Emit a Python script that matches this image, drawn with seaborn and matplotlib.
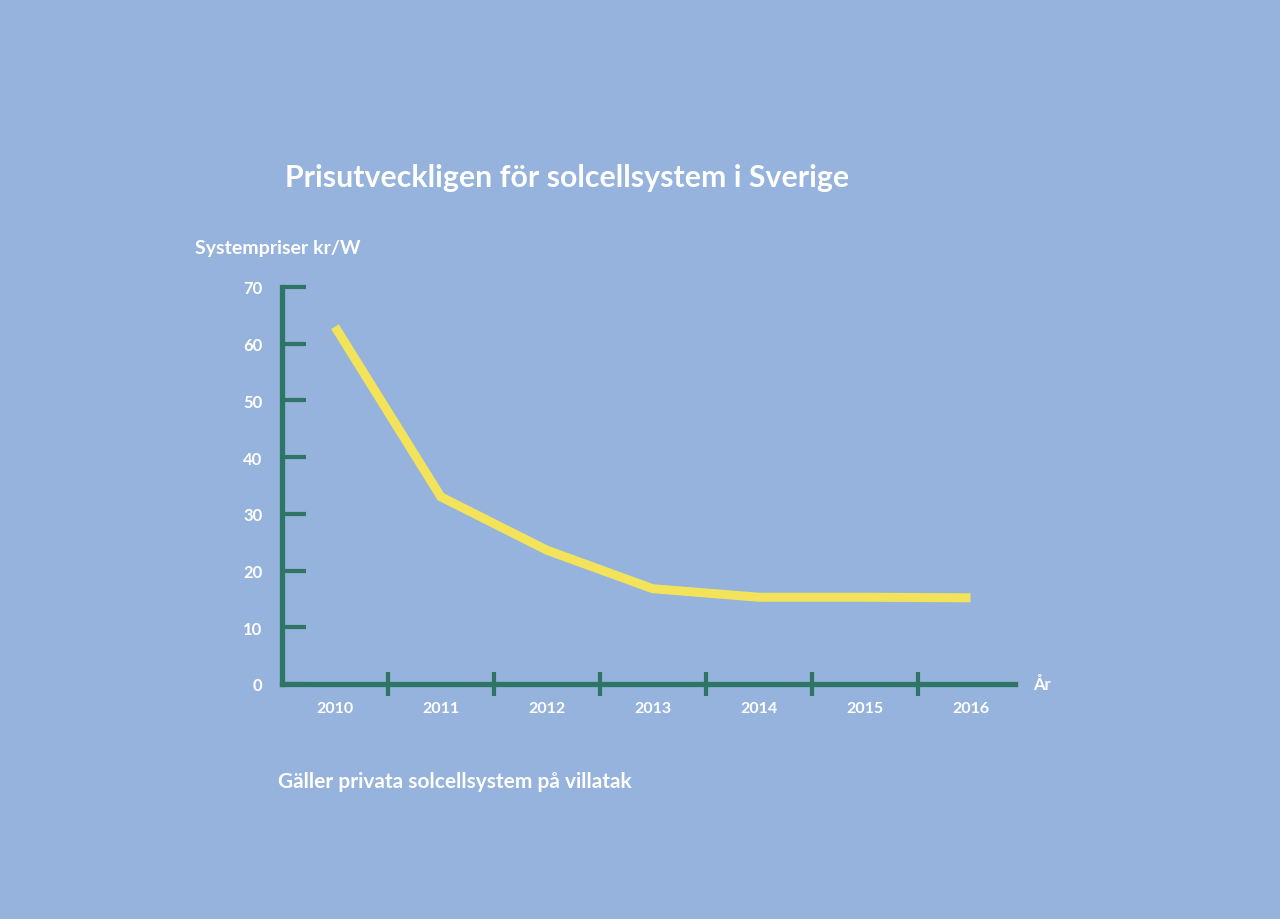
import matplotlib
matplotlib.use("Agg")
import matplotlib.pyplot as plt
import seaborn as sns
import pandas as pd

# Data
years = [2010, 2011, 2012, 2013, 2014, 2015, 2016]
prices = [63, 33, 23.6, 16.8, 15.3, 15.3, 15.2]
y_ticks = [0, 10, 20, 30, 40, 50, 60, 70]
title = "Prisutveckligen för solcellsystem i Sverige"
ylabel = "Systempriser kr/W"
xlabel = "År"
footnote = "Gäller privata solcellsystem på villatak"

BG = "#95b3dc"
AXIS = "#2e7566"
LINE = "#f3e35a"
WHITE = "#ffffff"

sns.set_style("white", {"axes.facecolor": BG, "figure.facecolor": BG})
plt.rcParams["font.family"] = ["Lato", "DejaVu Sans"]
plt.rcParams["font.weight"] = "bold"

df = pd.DataFrame({"year": years, "price": prices})

fig = plt.figure(figsize=(12.8, 9.2), dpi=100)
fig.patch.set_facecolor(BG)
ax = fig.add_axes([282 / 1280, 1 - 685 / 920, (1015 - 282) / 1280, (685 - 288) / 920])
ax.set_facecolor(BG)

sns.lineplot(data=df, x="year", y="price", ax=ax, color=LINE, linewidth=6.5,
             solid_joinstyle="miter", solid_capstyle="butt", clip_on=False)

ax.set_xlim(2009.5, 2016.42)
ax.set_ylim(0, 70)

for s in ["top", "right"]:
    ax.spines[s].set_visible(False)
for s in ["left", "bottom"]:
    ax.spines[s].set_color(AXIS)
    ax.spines[s].set_linewidth(3.8)
    ax.spines[s].set_capstyle("projecting")

# Y ticks
ax.set_yticks(y_ticks)
ax.set_yticklabels([str(v) for v in y_ticks])
ax.tick_params(axis="y", left=True, direction="in", length=17, width=3, color=AXIS,
               labelcolor=WHITE, labelsize=12, pad=14)

# X ticks: separators between years (major), labels at year centers (minor)
sep = [y + 0.5 for y in years[:-1]]
ax.set_xticks(sep)
ax.set_xticklabels([])
ax.tick_params(axis="x", which="major", bottom=True, direction="inout", length=17,
               width=3, color=AXIS)
ax.set_xticks(years, minor=True)
ax.set_xticklabels([str(y) for y in years], minor=True)
ax.tick_params(axis="x", which="minor", bottom=True, length=0, labelcolor=WHITE,
               labelsize=11.5, pad=12)
for lab in ax.get_xticklabels(minor=True) + ax.get_yticklabels():
    lab.set_fontweight("bold")

ax.set_xlabel("")
ax.set_ylabel("")

ax.text(1.025, 0.0, xlabel, transform=ax.transAxes, color=WHITE, fontsize=12,
        fontweight="bold", ha="left", va="center")

fig.text(285 / 1280, 1 - 178 / 920, title, color=WHITE, fontsize=21.8,
         fontweight="bold", ha="left", va="center")
fig.text(195 / 1280, 1 - 249 / 920, ylabel, color=WHITE, fontsize=14,
         fontweight="bold", ha="left", va="center")
fig.text(278 / 1280, 1 - 782 / 920, footnote, color=WHITE, fontsize=15,
         fontweight="bold", ha="left", va="center")

fig.savefig("out.png", dpi=100, facecolor=BG)
